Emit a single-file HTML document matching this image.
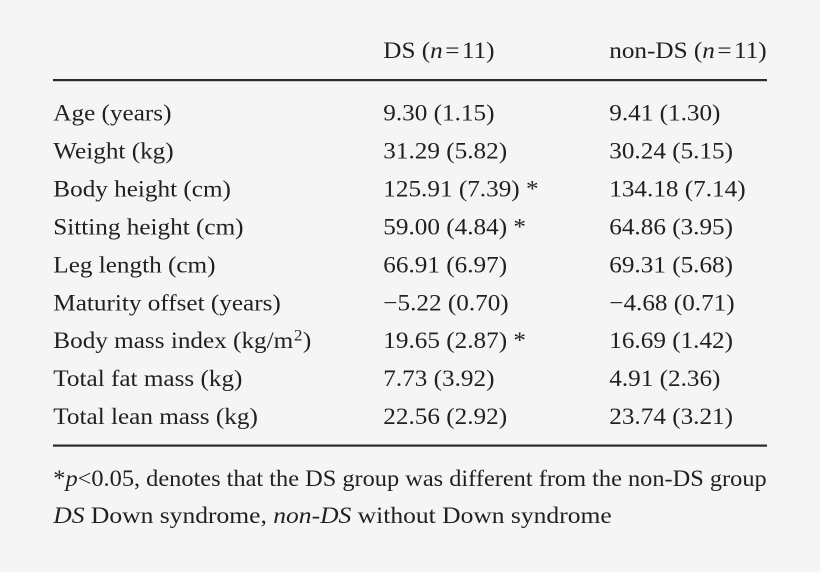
<!DOCTYPE html>
<html>
<head>
<meta charset="utf-8">
<style>
  html, body { margin:0; padding:0; background:#f5f5f5; }
  svg { display:block; }
  text { font-family: "Liberation Serif", "Times New Roman", serif; fill:#231f20; }
</style>
</head>
<body>
<svg width="820" height="572" viewBox="0 0 820 572" xmlns="http://www.w3.org/2000/svg">
  <rect x="0" y="0" width="820" height="572" fill="#f5f5f5"/>
  <!-- rules -->
  <rect x="53" y="79" width="714" height="2.2" fill="#2a2a2a"/>
  <rect x="53" y="444.5" width="714" height="2.2" fill="#2a2a2a"/>

  <g transform="scale(1.077 1)" font-size="23.4">
    <!-- header -->
    <text x="355.9" y="58">DS (<tspan font-style="italic">n</tspan><tspan dx="2.3">=</tspan><tspan dx="2.3">11)</tspan></text>
    <text x="565.7" y="58">non-DS (<tspan font-style="italic">n</tspan><tspan dx="2.3">=</tspan><tspan dx="2.3">11)</tspan></text>

    <!-- column 1 -->
    <text x="49.5" y="120.5">Age (years)</text>
    <text x="49.5" y="158.5">Weight (kg)</text>
    <text x="49.5" y="196.4">Body height (cm)</text>
    <text x="49.5" y="234.4">Sitting height (cm)</text>
    <text x="49.5" y="272.3">Leg length (cm)</text>
    <text x="49.5" y="310.3">Maturity offset (years)</text>
    <text x="49.5" y="348.2">Body mass index (kg/m<tspan font-size="16" dx="0.6" dy="-7.5">2</tspan><tspan dx="0.4" dy="7.5">)</tspan></text>
    <text x="49.5" y="386.2">Total fat mass (kg)</text>
    <text x="49.5" y="424.1">Total lean mass (kg)</text>

    <!-- column 2 -->
    <text x="355.9" y="120.5">9.30 (1.15)</text>
    <text x="355.9" y="158.5">31.29 (5.82)</text>
    <text x="355.9" y="196.4">125.91 (7.39) *</text>
    <text x="355.9" y="234.4">59.00 (4.84) *</text>
    <text x="355.9" y="272.3">66.91 (6.97)</text>
    <text x="355.9" y="310.3">−5.22 (0.70)</text>
    <text x="355.9" y="348.2">19.65 (2.87) *</text>
    <text x="355.9" y="386.2">7.73 (3.92)</text>
    <text x="355.9" y="424.1">22.56 (2.92)</text>

    <!-- column 3 -->
    <text x="565.7" y="120.5">9.41 (1.30)</text>
    <text x="565.7" y="158.5">30.24 (5.15)</text>
    <text x="565.7" y="196.4">134.18 (7.14)</text>
    <text x="565.7" y="234.4">64.86 (3.95)</text>
    <text x="565.7" y="272.3">69.31 (5.68)</text>
    <text x="565.7" y="310.3">−4.68 (0.71)</text>
    <text x="565.7" y="348.2">16.69 (1.42)</text>
    <text x="565.7" y="386.2">4.91 (2.36)</text>
    <text x="565.7" y="424.1">23.74 (3.21)</text>
  </g>

  <!-- footnotes -->
  <text x="53.3" y="486" font-size="23" textLength="713.4" lengthAdjust="spacingAndGlyphs">*<tspan font-style="italic">p</tspan>&lt;0.05, denotes that the DS group was different from the non-DS group</text>
  <text x="53.3" y="523" font-size="23" textLength="558.4" lengthAdjust="spacingAndGlyphs"><tspan font-style="italic">DS</tspan> Down syndrome, <tspan font-style="italic">non-DS</tspan> without Down syndrome</text>
</svg>
</body>
</html>
